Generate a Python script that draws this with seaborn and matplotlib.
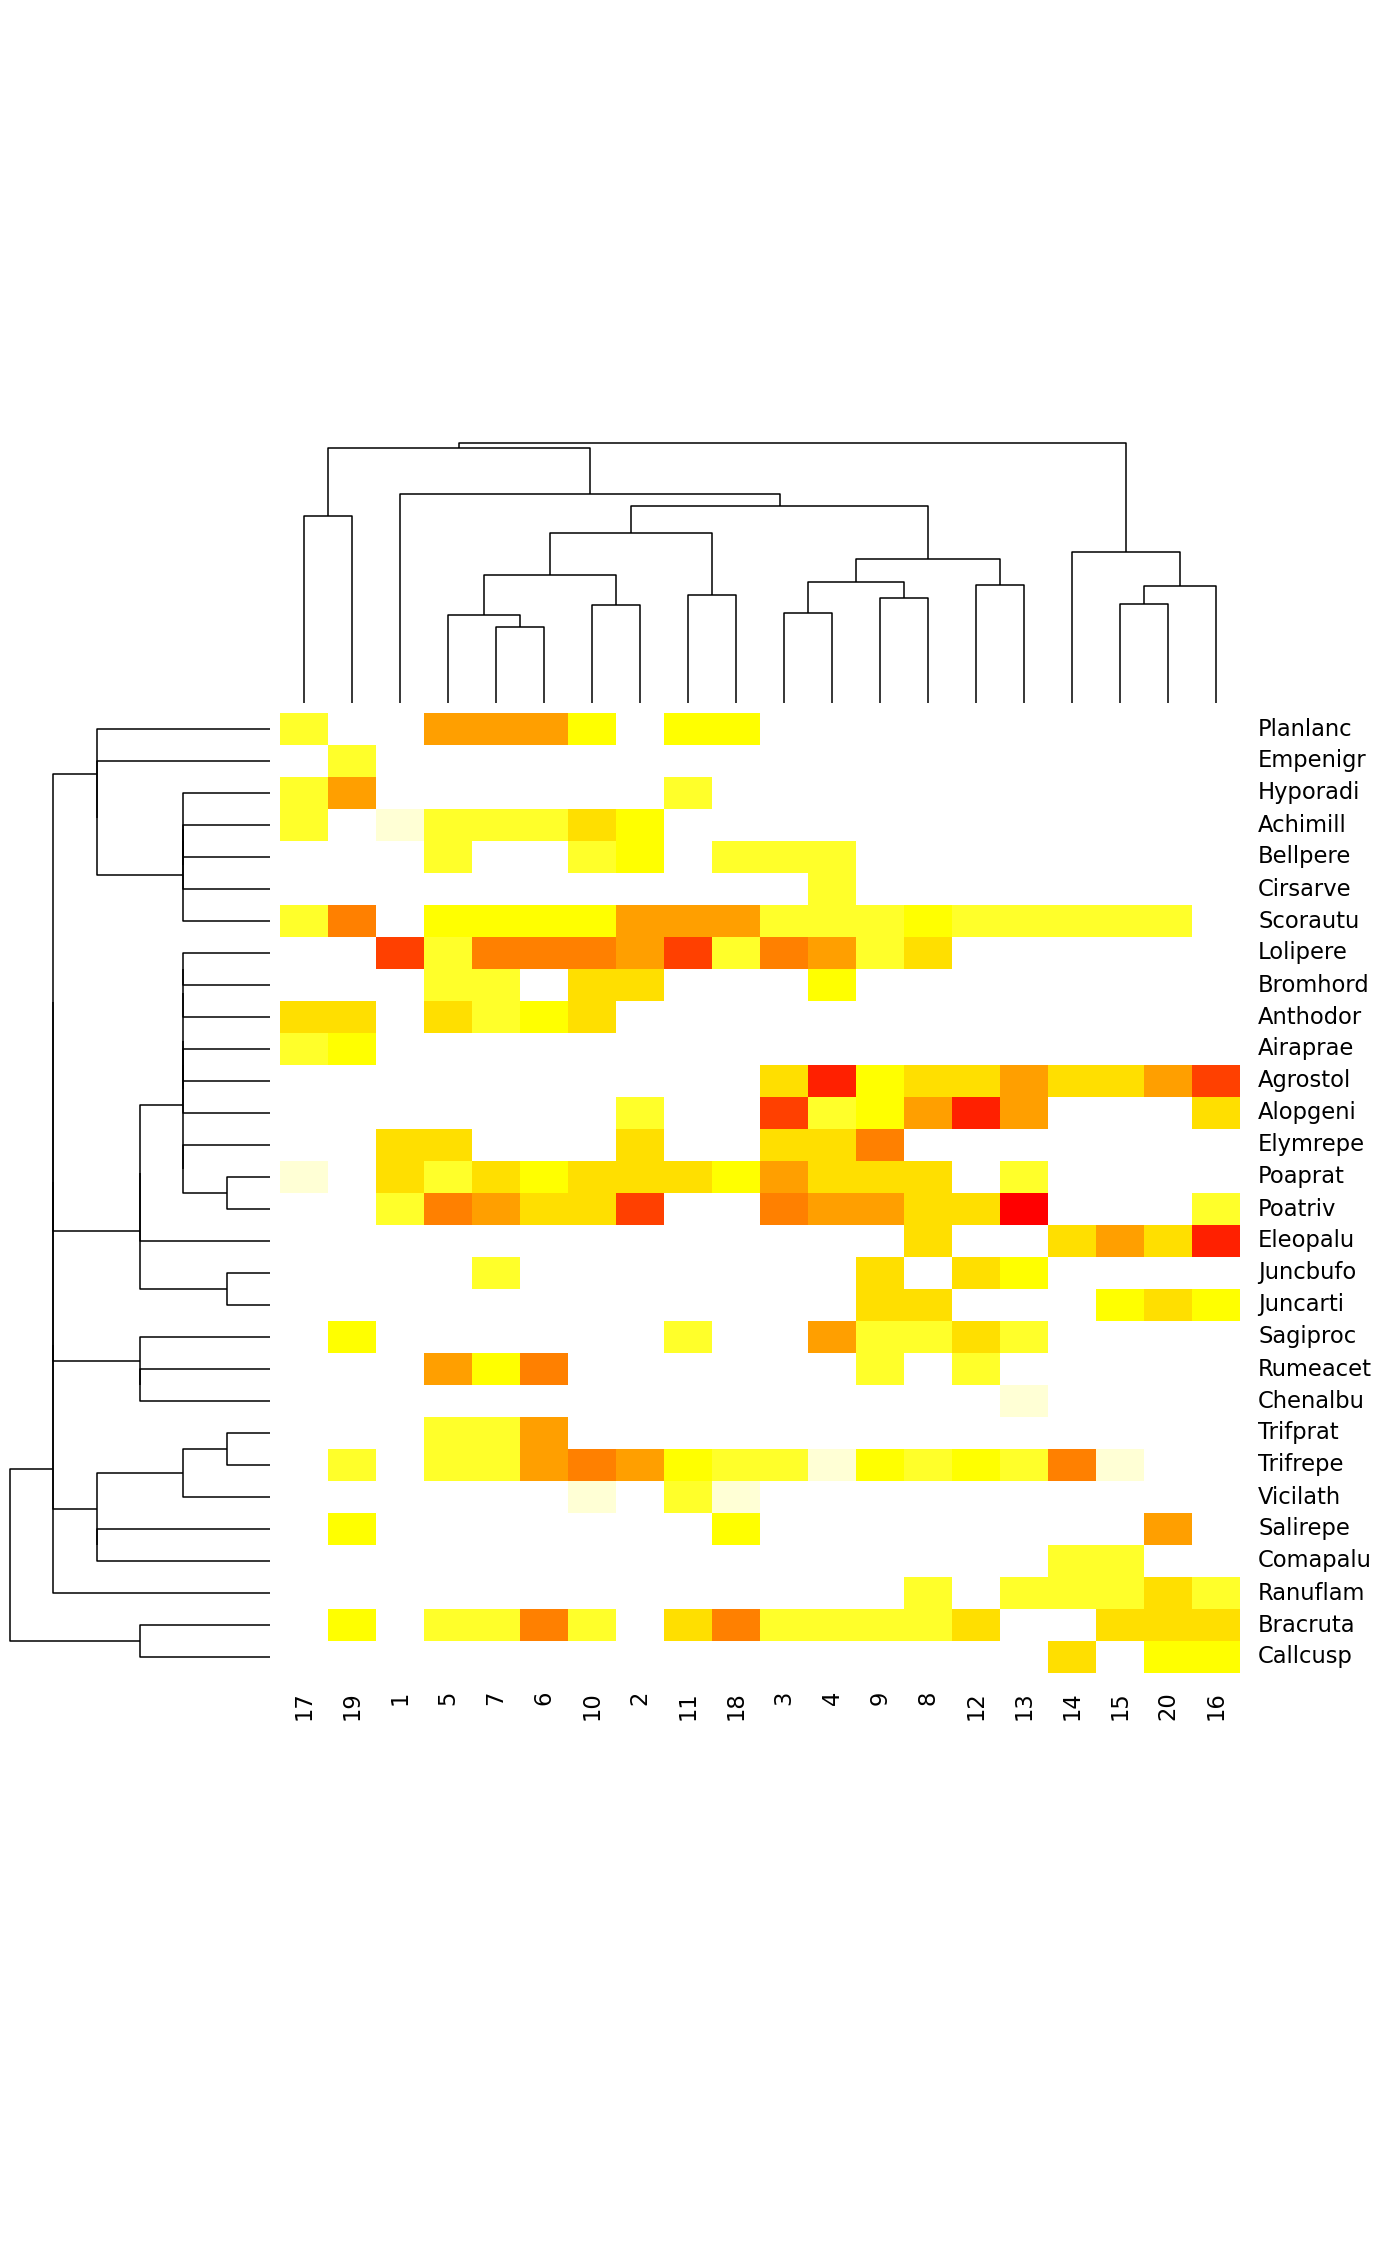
import numpy as np
import pandas as pd
import matplotlib
matplotlib.use("Agg")
import matplotlib.pyplot as plt
from matplotlib.colors import ListedColormap
import seaborn as sns

# sites (columns) and species (rows) in the order shown on the chart
sites = ["17", "19", "1", "5", "7", "6", "10", "2", "11", "18",
         "3", "4", "9", "8", "12", "13", "14", "15", "20", "16"]
species = ["Planlanc", "Empenigr", "Hyporadi", "Achimill", "Bellpere", "Cirsarve",
           "Scorautu", "Lolipere", "Bromhord", "Anthodor", "Airaprae", "Agrostol",
           "Alopgeni", "Elymrepe", "Poaprat", "Poatriv", "Eleopalu", "Juncbufo",
           "Juncarti", "Sagiproc", "Rumeacet", "Chenalbu", "Trifprat", "Trifrepe",
           "Vicilath", "Salirepe", "Comapalu", "Ranuflam", "Bracruta", "Callcusp"]

# cover class per species, one value per site in the order above (0 = absent)
cover = [
    [2, 0, 0, 5, 5, 5, 3, 0, 3, 3, 0, 0, 0, 0, 0, 0, 0, 0, 0, 0],  # Planlanc
    [0, 2, 0, 0, 0, 0, 0, 0, 0, 0, 0, 0, 0, 0, 0, 0, 0, 0, 0, 0],  # Empenigr
    [2, 5, 0, 0, 0, 0, 0, 0, 2, 0, 0, 0, 0, 0, 0, 0, 0, 0, 0, 0],  # Hyporadi
    [2, 0, 1, 2, 2, 2, 4, 3, 0, 0, 0, 0, 0, 0, 0, 0, 0, 0, 0, 0],  # Achimill
    [0, 0, 0, 2, 0, 0, 2, 3, 0, 2, 2, 2, 0, 0, 0, 0, 0, 0, 0, 0],  # Bellpere
    [0, 0, 0, 0, 0, 0, 0, 0, 0, 0, 0, 2, 0, 0, 0, 0, 0, 0, 0, 0],  # Cirsarve
    [2, 6, 0, 3, 3, 3, 3, 5, 5, 5, 2, 2, 2, 3, 2, 2, 2, 2, 2, 0],  # Scorautu
    [0, 0, 7, 2, 6, 6, 6, 5, 7, 2, 6, 5, 2, 4, 0, 0, 0, 0, 0, 0],  # Lolipere
    [0, 0, 0, 2, 2, 0, 4, 4, 0, 0, 0, 3, 0, 0, 0, 0, 0, 0, 0, 0],  # Bromhord
    [4, 4, 0, 4, 2, 3, 4, 0, 0, 0, 0, 0, 0, 0, 0, 0, 0, 0, 0, 0],  # Anthodor
    [2, 3, 0, 0, 0, 0, 0, 0, 0, 0, 0, 0, 0, 0, 0, 0, 0, 0, 0, 0],  # Airaprae
    [0, 0, 0, 0, 0, 0, 0, 0, 0, 0, 4, 8, 3, 4, 4, 5, 4, 4, 5, 7],  # Agrostol
    [0, 0, 0, 0, 0, 0, 0, 2, 0, 0, 7, 2, 3, 5, 8, 5, 0, 0, 0, 4],  # Alopgeni
    [0, 0, 4, 4, 0, 0, 0, 4, 0, 0, 4, 4, 6, 0, 0, 0, 0, 0, 0, 0],  # Elymrepe
    [1, 0, 4, 2, 4, 3, 4, 4, 4, 3, 5, 4, 4, 4, 0, 2, 0, 0, 0, 0],  # Poaprat
    [0, 0, 2, 6, 5, 4, 4, 7, 0, 0, 6, 5, 5, 4, 4, 9, 0, 0, 0, 2],  # Poatriv
    [0, 0, 0, 0, 0, 0, 0, 0, 0, 0, 0, 0, 0, 4, 0, 0, 4, 5, 4, 8],  # Eleopalu
    [0, 0, 0, 0, 2, 0, 0, 0, 0, 0, 0, 0, 4, 0, 4, 3, 0, 0, 0, 0],  # Juncbufo
    [0, 0, 0, 0, 0, 0, 0, 0, 0, 0, 0, 0, 4, 4, 0, 0, 0, 3, 4, 3],  # Juncarti
    [0, 3, 0, 0, 0, 0, 0, 0, 2, 0, 0, 5, 2, 2, 4, 2, 0, 0, 0, 0],  # Sagiproc
    [0, 0, 0, 5, 3, 6, 0, 0, 0, 0, 0, 0, 2, 0, 2, 0, 0, 0, 0, 0],  # Rumeacet
    [0, 0, 0, 0, 0, 0, 0, 0, 0, 0, 0, 0, 0, 0, 0, 1, 0, 0, 0, 0],  # Chenalbu
    [0, 0, 0, 2, 2, 5, 0, 0, 0, 0, 0, 0, 0, 0, 0, 0, 0, 0, 0, 0],  # Trifprat
    [0, 2, 0, 2, 2, 5, 6, 5, 3, 2, 2, 1, 3, 2, 3, 2, 6, 1, 0, 0],  # Trifrepe
    [0, 0, 0, 0, 0, 0, 1, 0, 2, 1, 0, 0, 0, 0, 0, 0, 0, 0, 0, 0],  # Vicilath
    [0, 3, 0, 0, 0, 0, 0, 0, 0, 3, 0, 0, 0, 0, 0, 0, 0, 0, 5, 0],  # Salirepe
    [0, 0, 0, 0, 0, 0, 0, 0, 0, 0, 0, 0, 0, 0, 0, 0, 2, 2, 0, 0],  # Comapalu
    [0, 0, 0, 0, 0, 0, 0, 0, 0, 0, 0, 0, 0, 2, 0, 2, 2, 2, 4, 2],  # Ranuflam
    [0, 3, 0, 2, 2, 6, 2, 0, 4, 6, 2, 2, 2, 2, 4, 0, 0, 4, 4, 4],  # Bracruta
    [0, 0, 0, 0, 0, 0, 0, 0, 0, 0, 0, 0, 0, 0, 0, 0, 4, 0, 3, 3],  # Callcusp
]

# colour for cover classes 1..9
class_colors = ["#FFFFD5", "#FFFF2A", "#FFFF00", "#FFDF00", "#FF9F00",
                "#FF8000", "#FF4000", "#FF2000", "#FF0000"]

# merges: (child, child, height); child = leaf label or index of an earlier merge
row_merges = [
    ("Poaprat", "Poatriv", 1),      # 0
    ("Juncbufo", "Juncarti", 1),    # 1
    ("Trifprat", "Trifrepe", 1),    # 2
    ("Achimill", "Bellpere", 2),    # 3
    (3, "Cirsarve", 2),             # 4
    ("Hyporadi", 4, 2),             # 5
    (5, "Scorautu", 2),             # 6
    ("Lolipere", "Bromhord", 2),    # 7
    (7, "Anthodor", 2),             # 8
    ("Airaprae", "Agrostol", 2),    # 9
    (9, "Alopgeni", 2),             # 10
    (8, 10, 2),                     # 11
    ("Elymrepe", 0, 2),             # 12
    (11, 12, 2),                    # 13
    (13, "Eleopalu", 3),            # 14
    (14, 1, 3),                     # 15
    ("Rumeacet", "Chenalbu", 3),    # 16
    ("Sagiproc", 16, 3),            # 17
    (2, "Vicilath", 2),             # 18
    ("Salirepe", "Comapalu", 4),    # 19
    (18, 19, 4),                    # 20
    ("Empenigr", 6, 4),             # 21
    ("Planlanc", 21, 4),            # 22
    (22, 15, 5),                    # 23
    (23, 17, 5),                    # 24
    (24, 20, 5),                    # 25
    (25, "Ranuflam", 5),            # 26
    ("Bracruta", "Callcusp", 3),    # 27
    (26, 27, 6),                    # 28
]
row_max_height = 6

col_merges = [
    ("7", "6", 7.6),     # 0
    ("5", 0, 8.8),       # 1
    ("10", "2", 9.8),    # 2
    (1, 2, 12.8),        # 3
    ("11", "18", 10.8),  # 4
    (3, 4, 17.0),        # 5
    ("3", "4", 9.0),     # 6
    ("9", "8", 10.5),    # 7
    (6, 7, 12.1),        # 8
    ("12", "13", 11.8),  # 9
    (8, 9, 14.4),        # 10
    (5, 10, 19.7),       # 11
    ("1", 11, 20.9),     # 12
    ("17", "19", 18.7),  # 13
    (13, 12, 25.5),      # 14
    ("15", "20", 9.9),   # 15
    (15, "16", 11.7),    # 16
    ("14", 16, 15.1),    # 17
    (14, 17, 26.0),      # 18
]


def draw_dendrogram(ax, merges, leaves, vertical):
    leaf_pos = {name: i + 0.5 for i, name in enumerate(leaves)}
    node_pos, node_h = [], []

    def locate(child):
        if isinstance(child, str):
            return leaf_pos[child], 0.0
        return node_pos[child], node_h[child]

    for a, b, h in merges:
        pa, ha = locate(a)
        pb, hb = locate(b)
        p = [pa, pa, pb, pb]
        q = [ha, h, h, hb]
        if vertical:
            ax.plot(p, q, color="black", lw=1.1, clip_on=False, solid_capstyle="butt")
        else:
            ax.plot(q, p, color="black", lw=1.1, clip_on=False, solid_capstyle="butt")
        node_pos.append((pa + pb) / 2)
        node_h.append(h)


W, H = 1400, 2266
sns.set_style("white")
plt.rcParams["font.family"] = ["DejaVu Sans"]
plt.rcParams["text.color"] = "black"
plt.rcParams["xtick.color"] = "black"
plt.rcParams["ytick.color"] = "black"
fig = plt.figure(figsize=(W / 100, H / 100), dpi=100)


def box(x0, y0, x1, y1):
    return [x0 / W, 1 - y1 / H, (x1 - x0) / W, (y1 - y0) / H]


# heatmap
ax_hm = fig.add_axes(box(280, 713, 1240, 1673))
df = pd.DataFrame(cover, index=species, columns=sites)
sns.heatmap(df, mask=(df == 0), cmap=ListedColormap(class_colors),
            vmin=0.5, vmax=9.5, cbar=False, linewidths=0, ax=ax_hm)
ax_hm.yaxis.tick_right()
ax_hm.set_yticks(np.arange(len(species)) + 0.5)
ax_hm.set_yticklabels(species, rotation=0, fontsize=16.3, va="center", ha="left",
                      color="black")
ax_hm.set_xticks(np.arange(len(sites)) + 0.5)
ax_hm.set_xticklabels(sites, rotation=90, fontsize=16.3, ha="center", va="top",
                      color="black")
ax_hm.tick_params(axis="y", length=0, pad=13)
ax_hm.tick_params(axis="x", length=0, pad=13)
ax_hm.set_xlabel("")
ax_hm.set_ylabel("")
for s in ax_hm.spines.values():
    s.set_visible(False)

# column dendrogram
ax_col = fig.add_axes(box(280, 443, 1240, 703))
draw_dendrogram(ax_col, col_merges, sites, vertical=True)
ax_col.set_xlim(0, len(sites))
ax_col.set_ylim(0, max(h for _, _, h in col_merges))
ax_col.axis("off")

# row dendrogram
ax_row = fig.add_axes(box(10, 713, 270, 1673))
draw_dendrogram(ax_row, row_merges, species, vertical=False)
ax_row.set_xlim(row_max_height, 0)
ax_row.set_ylim(len(species), 0)
ax_row.axis("off")

fig.savefig("out.png", dpi=100, facecolor="white")
